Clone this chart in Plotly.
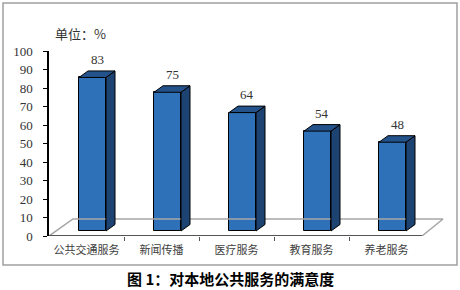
import plotly.graph_objects as go

# ---- data ----
categories = ["公共交通服务", "新闻传播", "医疗服务", "教育服务", "养老服务"]
values = [83, 75, 64, 54, 48]
y_ticks = [0, 10, 20, 30, 40, 50, 60, 70, 80, 90, 100]
unit_label = "单位：%"
caption = "图 1：对本地公共服务的满意度"

# ---- geometry (pixel layout helpers) ----
W, H = 460, 290
L, R, T, B = 49, 15, 51, 54
plot_w = W - L - R
plot_h = H - T - B
px_per_x = 75.0
px_per_y = plot_h / 100.0
x_min = -0.5
x_max = x_min + plot_w / px_per_x

bar_off = 6 / px_per_x          # bar front offset right of category center
bar_w = 27 / px_per_x
depth_dx = 9 / px_per_x
depth_dy = 6.5 / px_per_y
bar_base = 5 / px_per_y
floor_dy = 17 / px_per_y
floor_back_x0 = x_min + 24 / px_per_x
floor_back_x1 = x_min + (443 - L) / px_per_x
floor_front_x1 = x_min + (422 - L) / px_per_x

front_col = "#2E71B8"
top_col = "#24528A"
side_col = "#1D4373"

xs = list(range(len(categories)))
fig = go.Figure()

# floor (gray outline)
fig.add_trace(go.Scatter(
    x=[x_min, floor_back_x0, floor_back_x1, floor_front_x1],
    y=[0, floor_dy, floor_dy, 0],
    mode="lines", line=dict(color="#A6A6A6", width=1.5),
    hoverinfo="skip", showlegend=False))
# front axis line
fig.add_trace(go.Scatter(
    x=[x_min, floor_front_x1], y=[0, 0],
    mode="lines", line=dict(color="#555555", width=2),
    hoverinfo="skip", showlegend=False))

# front faces
centers = [x + bar_off for x in xs]
fig.add_trace(go.Bar(
    x=centers, y=values, base=[bar_base] * len(values), width=bar_w,
    marker=dict(color=front_col, line=dict(color="#000000", width=1)),
    hoverinfo="skip", showlegend=False))

# side & top faces
sx, sy, tx, ty = [], [], [], []
for c, v in zip(centers, values):
    xl, xr = c - bar_w / 2, c + bar_w / 2
    top = bar_base + v
    sx += [xr, xr + depth_dx, xr + depth_dx, xr, xr, None]
    sy += [bar_base, bar_base + depth_dy, top + depth_dy, top, bar_base, None]
    tx += [xl, xl + depth_dx, xr + depth_dx, xr, xl, None]
    ty += [top, top + depth_dy, top + depth_dy, top, top, None]
fig.add_trace(go.Scatter(x=sx, y=sy, fill="toself", fillcolor=side_col,
                         mode="lines", line=dict(color="#000000", width=1),
                         hoverinfo="skip", showlegend=False))
fig.add_trace(go.Scatter(x=tx, y=ty, fill="toself", fillcolor=top_col,
                         mode="lines", line=dict(color="#000000", width=1),
                         hoverinfo="skip", showlegend=False))

# value labels
for c, v in zip(centers, values):
    fig.add_annotation(x=c + depth_dx / 2, y=bar_base + v + depth_dy,
                       text=str(v), showarrow=False, yanchor="bottom", yshift=2,
                       font=dict(family="Liberation Serif", size=13, color="#333333"))

def px_x(p):
    return (p - L) / plot_w

def px_y(p):
    return (H - B - p) / plot_h

fig.add_annotation(xref="paper", yref="paper", x=px_x(53), y=px_y(33),
                   xanchor="left", yanchor="middle", text=unit_label, showarrow=False,
                   font=dict(family="Noto Sans CJK SC, Liberation Serif", size=13, color="#333333"))
fig.add_annotation(xref="paper", yref="paper", x=px_x(230), y=px_y(278),
                   xanchor="center", yanchor="middle", text="<b>" + caption + "</b>",
                   showarrow=False,
                   font=dict(family="Noto Sans CJK SC", size=15, color="#000000"))

fig.add_shape(type="rect", xref="paper", yref="paper",
              x0=px_x(3), x1=px_x(457), y0=px_y(265), y1=px_y(3),
              line=dict(color="#A0A0A0", width=1.5), fillcolor="rgba(0,0,0,0)", layer="below")

fig.update_layout(
    width=W, height=H,
    margin=dict(l=L, r=R, t=T, b=B),
    paper_bgcolor="white", plot_bgcolor="white",
    bargap=0,
    xaxis=dict(range=[x_min, x_max], tickmode="array", tickvals=xs, ticktext=categories,
               showline=False, showgrid=False, zeroline=False, ticks="",
               ticklabelstandoff=6,
               tickfont=dict(family="Noto Sans CJK SC", size=11, color="#404040"),
               minor=dict(tickmode="array", tickvals=[0.5, 1.5, 2.5, 3.5], ticks="outside",
                          ticklen=4, tickcolor="#555555", tickwidth=1, showgrid=False),
               fixedrange=True),
    yaxis=dict(range=[0, 100], tickmode="array", tickvals=y_ticks,
               showline=True, linecolor="#000000", linewidth=1.5,
               ticks="outside", ticklen=4, tickcolor="#000000",
               showgrid=False, zeroline=False, ticklabelstandoff=8,
               tickfont=dict(family="Liberation Serif", size=13, color="#333333"),
               fixedrange=True),
)

fig.write_html("out.html")
